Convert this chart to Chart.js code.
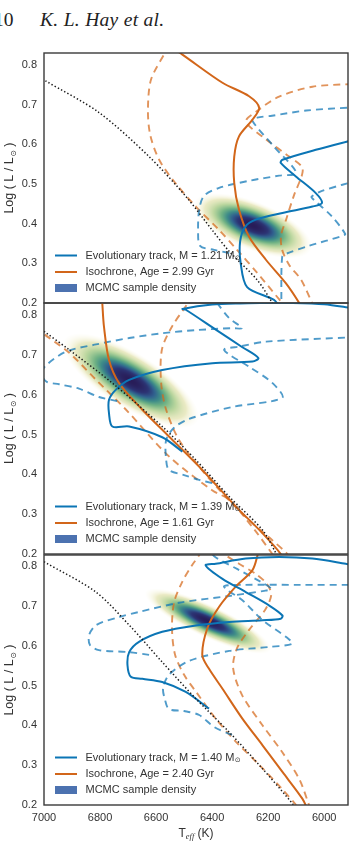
<!DOCTYPE html>
<html>
<head>
<meta charset="utf-8">
<script src="https://cdn.jsdelivr.net/npm/chart.js@4.4.0/dist/chart.umd.min.js"></script>
<style>
  body { margin: 0; background: #fff; width: 349px; height: 844px; overflow: hidden; position: relative; }
  canvas { position: absolute; left: 0; }
  .head { position: absolute; top: 10px; font-family: "Liberation Serif", serif; font-size: 19.5px; line-height: 19px; color: #222; white-space: nowrap; }
</style>
</head>
<body>
<div class="head" style="left:-6px">10</div>
<div class="head" style="left:40px;font-style:italic;letter-spacing:0.3px">K. L. Hay et al.</div>
<canvas id="p1" width="349" height="270" style="top:43px"></canvas>
<canvas id="p2" width="349" height="271" style="top:293px"></canvas>
<canvas id="p3" width="349" height="299" style="top:545px"></canvas>
<script>
// axis ticks
const tempTicks = [7000, 6800, 6600, 6400, 6200, 6000];
const lumTicks = [0.2, 0.3, 0.4, 0.5, 0.6, 0.7, 0.8];

// legend values per panel
const masses = [1.21, 1.39, 1.40];
const ages = [2.99, 1.61, 2.40];

// curves, [Teff, log L]
// panel 1
const zams1 = [[6995,0.760],[6804,0.680],[6625,0.569],[6493,0.468],[6400,0.384],[6340,0.331],[6239,0.258],[6185,0.2],[6170,0.18]];
const track1 = [[6160,0.19],[6179,0.208],[6275,0.240],[6298,0.300],[6300,0.355],[6282,0.392],[6244,0.410],[6149,0.427],[6042,0.443],[6008,0.452],[6030,0.477],[6101,0.519],[6155,0.553],[6149,0.561],[6030,0.586],[5900,0.610]];
const track1Hi = [[6339,0.326],[6393,0.334],[6443,0.344],[6450,0.384],[6446,0.435],[6429,0.470],[6375,0.490],[6268,0.508],[6161,0.521],[6100,0.528],[6179,0.594],[6257,0.660],[6239,0.667],[6186,0.672],[6064,0.685],[5900,0.693]];
const track1Lo = [[6153,0.18],[6153,0.2],[6150,0.316],[6136,0.324],[6054,0.344],[5936,0.369],[5925,0.374],[5975,0.420],[6040,0.462],[6045,0.468],[6010,0.482],[5935,0.498],[5900,0.505]];
const iso1 = [[6557,0.85],[6506,0.826],[6363,0.755],[6268,0.721],[6232,0.692],[6256,0.662],[6304,0.620],[6321,0.569],[6321,0.502],[6304,0.435],[6268,0.367],[6208,0.309],[6137,0.250],[6089,0.2],[6075,0.18]];
const iso1Lo = [[6555,0.85],[6568,0.831],[6618,0.763],[6629,0.687],[6621,0.624],[6589,0.561],[6532,0.503],[6457,0.442],[6375,0.384],[6311,0.334],[6239,0.276],[6150,0.2]];
const iso1Hi = [[5900,0.752],[6042,0.745],[6161,0.720],[6243,0.682],[6279,0.657],[6207,0.612],[6125,0.569],[6079,0.543],[6079,0.523],[6107,0.473],[6136,0.410],[6154,0.370],[6150,0.334],[6125,0.296],[6082,0.258],[6043,0.2]];
// panel 2
const zams2 = [[7000,0.759],[6911,0.713],[6756,0.629],[6578,0.520],[6458,0.436],[6339,0.344],[6220,0.260],[6171,0.2],[6160,0.18]];
const track2 = [[6506,0.457],[6578,0.493],[6696,0.520],[6756,0.520],[6768,0.553],[6768,0.587],[6744,0.612],[6696,0.637],[6578,0.662],[6399,0.679],[6256,0.683],[6235,0.692],[6292,0.719],[6387,0.763],[6494,0.813],[6506,0.815],[6400,0.826],[6300,0.829],[6150,0.831],[6000,0.827],[5900,0.817]];
const track2Hi = [[6739,0.584],[6804,0.594],[6875,0.615],[6946,0.626],[6990,0.632],[7008,0.650],[6995,0.672],[6921,0.708],[6814,0.726],[6696,0.742],[6579,0.754],[6457,0.762],[6329,0.767],[6293,0.767],[6339,0.792],[6382,0.830],[6400,0.85]];
const track2Lo = [[6400,0.378],[6446,0.386],[6500,0.398],[6554,0.411],[6564,0.436],[6564,0.486],[6536,0.517],[6482,0.539],[6329,0.569],[6150,0.592],[6186,0.630],[6268,0.670],[6357,0.712],[6300,0.721],[6207,0.733],[5900,0.744]];
const iso2 = [[6794,0.85],[6792,0.83],[6786,0.771],[6768,0.687],[6732,0.629],[6649,0.562],[6554,0.495],[6435,0.411],[6315,0.319],[6220,0.252],[6155,0.2],[6145,0.18]];
const iso2Lo = [[7030,0.77],[7000,0.752],[6910,0.705],[6814,0.637],[6707,0.562],[6554,0.445],[6400,0.360],[6339,0.336],[6250,0.262],[6185,0.2]];
const iso2Hi = [[6470,0.85],[6489,0.827],[6543,0.771],[6579,0.714],[6582,0.630],[6564,0.562],[6518,0.486],[6446,0.419],[6364,0.353],[6268,0.285],[6186,0.235],[6132,0.2],[6120,0.18]];
// panel 3
const zams3 = [[7000,0.811],[6815,0.735],[6696,0.652],[6578,0.559],[6458,0.467],[6339,0.383],[6220,0.291],[6113,0.203],[6105,0.19]];
const track3 = [[6411,0.442],[6494,0.484],[6578,0.509],[6649,0.517],[6690,0.522],[6702,0.551],[6696,0.584],[6661,0.610],[6578,0.635],[6458,0.651],[6339,0.660],[6220,0.664],[6155,0.668],[6149,0.676],[6196,0.701],[6280,0.735],[6363,0.768],[6423,0.802],[6387,0.806],[6280,0.819],[6161,0.823],[6042,0.819],[5923,0.806],[5900,0.803]];
const track3Hi = [[6625,0.577],[6696,0.584],[6804,0.589],[6836,0.602],[6839,0.627],[6814,0.652],[6732,0.672],[6661,0.685],[6518,0.708],[6339,0.725],[6214,0.738],[6189,0.743],[6225,0.760],[6311,0.793],[6389,0.823],[6410,0.84]];
const track3Lo = [[6329,0.376],[6393,0.396],[6446,0.426],[6500,0.436],[6554,0.441],[6568,0.464],[6575,0.494],[6554,0.527],[6482,0.562],[6339,0.587],[6196,0.597],[6114,0.605],[6132,0.620],[6221,0.665],[6293,0.715],[6346,0.740],[6357,0.750],[6286,0.753],[6089,0.753],[5900,0.753]];
const iso3 = [[6236,0.84],[6238,0.827],[6256,0.790],[6315,0.749],[6375,0.698],[6417,0.644],[6435,0.576],[6411,0.542],[6363,0.492],[6292,0.417],[6220,0.350],[6149,0.283],[6078,0.216],[6060,0.19]];
const iso3Lo = [[6440,0.84],[6446,0.828],[6471,0.803],[6507,0.760],[6536,0.708],[6543,0.640],[6532,0.577],[6500,0.527],[6457,0.484],[6386,0.416],[6314,0.358],[6232,0.301],[6150,0.240],[6100,0.2]];
const iso3Hi = [[6380,0.84],[6354,0.828],[6304,0.806],[6243,0.780],[6204,0.755],[6189,0.728],[6211,0.690],[6268,0.640],[6311,0.594],[6325,0.544],[6293,0.476],[6221,0.401],[6150,0.333],[6089,0.265],[6054,0.2]];

// MCMC density: centre [Teff, logL], spread [Teff, logL], correlation
const density1 = [[6255, 0.395], [80, 0.031], 0.62];
const density2 = [[6690, 0.635], [92, 0.045], 0.75];
const density3 = [[6415, 0.662], [85, 0.031], 0.84];

const BLUE = '#0b75b5';
const ORANGE = '#d2661a';
const BLUE_D = 'rgba(11,117,181,0.72)';
const ORANGE_D = 'rgba(214,106,28,0.72)';
const FONT = '"Liberation Sans", Arial, sans-serif';
const TXT = '#333';

// density colour ramp (pale yellow -> green -> blue -> navy)
const ramp = [
    [0.03, 245, 242, 212, 0],
    [0.10, 232, 232, 190, 0.9],
    [0.22, 186, 214, 158, 1],
    [0.38, 112, 178, 132, 1],
    [0.52, 62, 140, 136, 1],
    [0.66, 48, 96, 142, 1],
    [0.80, 44, 52, 116, 1],
    [1.00, 40, 28, 88, 1]
];

function rampColor(f) {
    if (f <= ramp[0][0]) return [255, 255, 255, 0];
    for (let k = 1; k < ramp.length; k++) {
        if (f <= ramp[k][0]) {
            const a = ramp[k - 1], b = ramp[k];
            const t = (f - a[0]) / (b[0] - a[0]);
            return [1, 2, 3, 4].map(i => a[i] + (b[i] - a[i]) * t);
        }
    }
    return ramp[ramp.length - 1].slice(1);
}

const densityPlugin = {
    id: 'density',
    beforeDatasetsDraw(chart, args, opts) {
        const { ctx, chartArea: a, scales: { x, y } } = chart;
        const [[t0, l0], [st, sl], r] = opts.gauss;
        const w = Math.round(a.right - a.left), h = Math.round(a.bottom - a.top);
        const off = document.createElement('canvas');
        off.width = w; off.height = h;
        const octx = off.getContext('2d');
        const img = octx.createImageData(w, h);
        for (let j = 0; j < h; j++) {
            const v = (y.getValueForPixel(a.top + j + 0.5) - l0) / sl;
            for (let i = 0; i < w; i++) {
                const u = (x.getValueForPixel(a.left + i + 0.5) - t0) / st;
                const d2 = (u * u - 2 * r * u * v + v * v) / (1 - r * r);
                const c = rampColor(Math.exp(-d2 / 2));
                const p = (j * w + i) * 4;
                img.data[p] = c[0]; img.data[p + 1] = c[1]; img.data[p + 2] = c[2];
                img.data[p + 3] = Math.round(c[3] * 255);
            }
        }
        octx.putImageData(img, 0, 0);
        ctx.drawImage(off, a.left, a.top);
    }
};

// draws "text" then a small sun symbol as subscript, returns end x
function withSun(ctx, text, x, y, size) {
    ctx.font = size + 'px ' + FONT;
    ctx.fillText(text, x, y);
    const w = ctx.measureText(text).width;
    ctx.font = Math.round(size * 0.6) + 'px "DejaVu Sans", sans-serif';
    ctx.fillText('\u2299', x + w + 0.5, y + size * 0.28);
    return x + w + 0.5 + ctx.measureText('\u2299').width;
}

const framePlugin = {
    id: 'frame',
    afterDraw(chart, args, opts) {
        const { ctx, chartArea: a } = chart;
        ctx.save();
        // legend
        ctx.fillStyle = TXT;
        ctx.textBaseline = 'middle';
        ctx.textAlign = 'left';
        const lx = a.left + 11, tx = a.left + 41.5;
        const rows = [a.bottom - 47.5, a.bottom - 31, a.bottom - 15];
        ctx.lineWidth = 2;
        ctx.strokeStyle = BLUE;
        ctx.beginPath(); ctx.moveTo(lx, rows[0]); ctx.lineTo(lx + 22, rows[0]); ctx.stroke();
        ctx.strokeStyle = ORANGE;
        ctx.beginPath(); ctx.moveTo(lx, rows[1]); ctx.lineTo(lx + 22, rows[1]); ctx.stroke();
        ctx.fillStyle = '#4c72b0';
        ctx.fillRect(lx, rows[2] - 4, 22, 8);
        ctx.fillStyle = TXT;
        withSun(ctx, 'Evolutionary track, M = ' + opts.mass.toFixed(2) + ' M', tx, rows[0], 11);
        ctx.font = '11px ' + FONT;
        ctx.fillText('Isochrone, Age = ' + opts.age.toFixed(2) + ' Gyr', tx, rows[1]);
        ctx.fillText('MCMC sample density', tx, rows[2]);

        // y title
        ctx.save();
        ctx.translate(10, (a.top + a.bottom) / 2);
        ctx.rotate(-Math.PI / 2);
        ctx.font = '12.5px ' + FONT;
        const w1 = ctx.measureText('Log ( L / L').width;
        ctx.font = '7.5px "DejaVu Sans", sans-serif';
        const ws = ctx.measureText('\u2299').width;
        ctx.font = '12.5px ' + FONT;
        const w2 = ctx.measureText(' )').width;
        const sx = -(w1 + ws + 1 + w2) / 2;
        ctx.textBaseline = 'middle';
        const ex = withSun(ctx, 'Log ( L / L', sx, 0, 12.5);
        ctx.font = '12.5px ' + FONT;
        ctx.fillText(' )', ex, 0);
        ctx.restore();

        // x title
        if (opts.xTitle) {
            ctx.textBaseline = 'middle';
            ctx.font = '12px ' + FONT;
            const wt = ctx.measureText('T').width;
            ctx.font = 'italic 8.5px "Liberation Serif", serif';
            const we = ctx.measureText('eff').width;
            ctx.font = '12px ' + FONT;
            const wk = ctx.measureText(' (K)').width;
            const x0 = (a.left + a.right) / 2 - (wt + we + wk) / 2;
            const yt = a.bottom + 29;
            ctx.fillText('T', x0, yt);
            ctx.font = 'italic 8.5px "Liberation Serif", serif';
            ctx.fillText('eff', x0 + wt, yt + 3);
            ctx.font = '12px ' + FONT;
            ctx.fillText(' (K)', x0 + wt + we, yt);
        }

        // box
        ctx.strokeStyle = '#3a3a3a';
        ctx.lineWidth = 1.4;
        ctx.strokeRect(a.left, a.top, a.right - a.left, a.bottom - a.top);
        ctx.restore();
    }
};

function curve(pts, color, dash, width) {
    return {
        data: pts.map(([x, y]) => ({ x, y })),
        showLine: true,
        borderColor: color,
        borderWidth: width,
        borderDash: dash,
        borderCapStyle: 'butt',
        pointRadius: 0,
        tension: 0.3,
        fill: false,
        clip: 0
    };
}

function makePanel(id, c, idx) {
    const last = idx === 2;
    return new Chart(document.getElementById(id), {
        type: 'scatter',
        data: {
            datasets: [
                curve(c.zams, '#1a1a1a', [1.4, 2.2], 1.5),
                curve(c.track, BLUE, [], 2),
                curve(c.iso, ORANGE, [], 2),
                curve(c.trackHi, BLUE_D, [7, 5], 1.9),
                curve(c.trackLo, BLUE_D, [7, 5], 1.9),
                curve(c.isoLo, ORANGE_D, [7, 5], 1.9),
                curve(c.isoHi, ORANGE_D, [7, 5], 1.9)
            ]
        },
        options: {
            responsive: false,
            devicePixelRatio: 1,
            animation: false,
            events: [],
            layout: { padding: { top: 10, bottom: last ? 0 : 10, left: 0, right: 1 } },
            plugins: {
                legend: { display: false },
                tooltip: { enabled: false },
                density: { gauss: c.density },
                frame: { mass: masses[idx], age: ages[idx], xTitle: last }
            },
            scales: {
                x: {
                    type: 'linear',
                    reverse: true,
                    min: 5915,
                    max: 7000,
                    display: last,
                    grid: { display: false, drawTicks: false },
                    border: { display: false },
                    afterBuildTicks: s => { s.ticks = tempTicks.map(v => ({ value: v })); },
                    afterFit: s => { s.height = last ? 39 : 0; s.paddingLeft = 0; s.paddingRight = 0; },
                    ticks: { padding: 6, color: TXT, font: { family: FONT, size: 11 }, maxRotation: 0, callback: v => String(v) }
                },
                y: {
                    type: 'linear',
                    min: 0.2,
                    max: c.yMax,
                    grid: { display: false, drawTicks: false },
                    border: { display: false },
                    afterBuildTicks: s => { s.ticks = lumTicks.map(v => ({ value: v })); },
                    afterFit: s => { s.width = 44; s.paddingTop = 0; s.paddingBottom = 0; },
                    ticks: { padding: 7, color: TXT, font: { family: FONT, size: 11 }, callback: v => v.toFixed(1) }
                }
            }
        },
        plugins: [densityPlugin, framePlugin]
    });
}

makePanel('p1', { zams: zams1, track: track1, trackHi: track1Hi, trackLo: track1Lo, iso: iso1, isoLo: iso1Lo, isoHi: iso1Hi, density: density1, yMax: 0.83 }, 0);
makePanel('p2', { zams: zams2, track: track2, trackHi: track2Hi, trackLo: track2Lo, iso: iso2, isoLo: iso2Lo, isoHi: iso2Hi, density: density2, yMax: 0.83 }, 1);
makePanel('p3', { zams: zams3, track: track3, trackHi: track3Hi, trackLo: track3Lo, iso: iso3, isoLo: iso3Lo, isoHi: iso3Hi, density: density3, yMax: 0.828 }, 2);
</script>
</body>
</html>
